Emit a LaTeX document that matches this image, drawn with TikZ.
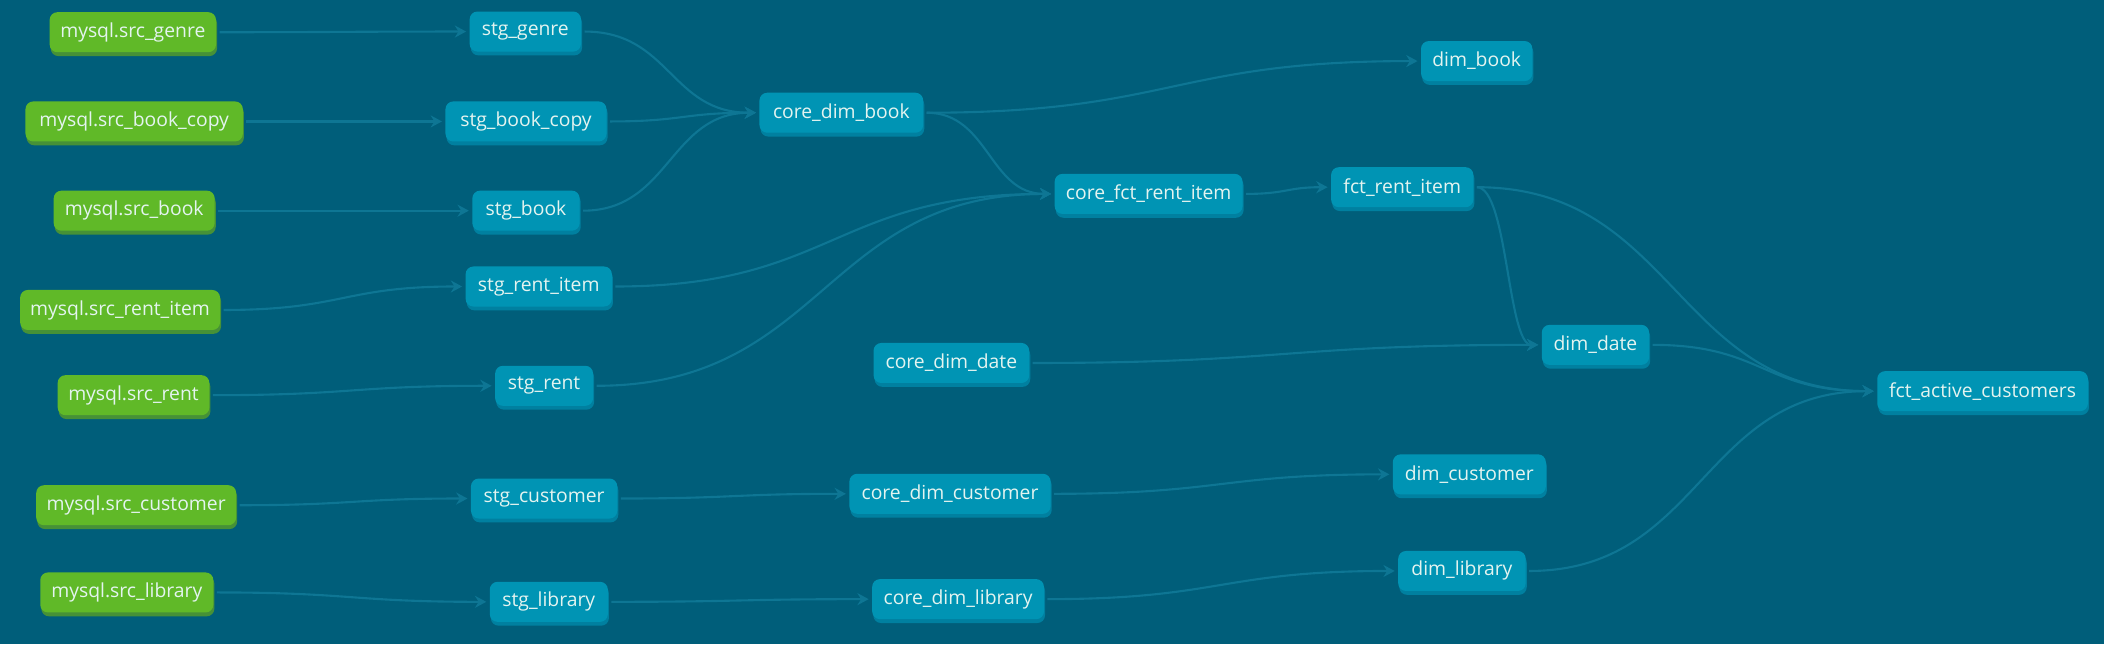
\documentclass[tikz,border=0pt]{standalone}
\usepackage{fontspec}
\setmainfont{Open Sans}
\usetikzlibrary{calc,arrows.meta}
\definecolor{bgc}{RGB}{0,94,122}
\definecolor{grn}{RGB}{96,185,40}
\definecolor{grnsh}{RGB}{70,145,55}
\definecolor{blu}{RGB}{0,148,180}
\definecolor{blush}{RGB}{0,128,160}
\definecolor{lnkc}{RGB}{14,118,148}
\definecolor{txt}{RGB}{228,244,240}
\tikzset{
  basebox/.style={rounded corners=2.2pt, minimum height=0.40cm, inner sep=0pt,
    text=txt, font=\fontsize{5.5}{6}\selectfont, anchor=center},
  gbox/.style={basebox, fill=grn, preaction={fill=grnsh, transform canvas={shift={(0.3pt,-1.1pt)}}}},
  bbox/.style={basebox, fill=blu, preaction={fill=blush, transform canvas={shift={(0.3pt,-1.1pt)}}}},
  wd/.style={minimum width={#1*0.013418cm}},
  lnkline/.style={draw=lnkc, line width=0.6pt, -{Stealth[length=3.2pt,width=3.4pt]},
    shorten >=0.8pt, shorten <=0.8pt}
}
\newcommand\lnk[2]{\draw[lnkline] let \p1=(#1.east), \p2=(#2.west), \n1={(\x2-\x1)/2} in
  (\p1) .. controls +(\n1,0pt) and +(-\n1,0pt) .. (\p2);}
\begin{document}
\begin{tikzpicture}[x=0.013418cm,y=-0.013418cm]
\fill[bgc] (0,0) rectangle (1568,480);
\useasboundingbox (0,0) rectangle (1568,480);
% sources
\node[gbox,wd=124] (sgenre) at (99,24) {mysql.src\_genre};
\node[gbox,wd=162] (sbookcopy) at (100,90.5) {mysql.src\_book\_copy};
\node[gbox,wd=120] (sbook) at (100,157) {mysql.src\_book};
\node[gbox,wd=149] (srentitem) at (89.5,231) {mysql.src\_rent\_item};
\node[gbox,wd=113] (srent) at (99.5,294.5) {mysql.src\_rent};
\node[gbox,wd=149] (scust) at (101.5,376.5) {mysql.src\_customer};
\node[gbox,wd=129] (slib) at (94.5,441.5) {mysql.src\_library};
% staging
\node[bbox,wd=83] (stggenre) at (391.5,23.5) {stg\_genre};
\node[bbox,wd=120] (stgbookcopy) at (392,90.5) {stg\_book\_copy};
\node[bbox,wd=80] (stgbook) at (392,157) {stg\_book};
\node[bbox,wd=109] (stgrentitem) at (401.5,213.5) {stg\_rent\_item};
\node[bbox,wd=73] (stgrent) at (405.5,287.5) {stg\_rent};
\node[bbox,wd=109] (stgcust) at (405.5,371.5) {stg\_customer};
\node[bbox,wd=88] (stglib) at (409,448.5) {stg\_library};
% core
\node[bbox,wd=122] (cdbook) at (627,84) {core\_dim\_book};
\node[bbox,wd=140] (cfri) at (856,144.5) {core\_fct\_rent\_item};
\node[bbox,wd=116] (cddate) at (709,270.5) {core\_dim\_date};
\node[bbox,wd=150] (cdcust) at (708,368) {core\_dim\_customer};
\node[bbox,wd=128] (cdlib) at (714,446.5) {core\_dim\_library};
% marts
\node[bbox,wd=83] (dbook) at (1100.5,45.5) {dim\_book};
\node[bbox,wd=106] (fri) at (1045,139.5) {fct\_rent\_item};
\node[bbox,wd=80] (ddate) at (1189,257) {dim\_date};
\node[bbox,wd=114] (dcust) at (1095,353.5) {dim\_customer};
\node[bbox,wd=95] (dlib) at (1089.5,425.5) {dim\_library};
\node[bbox,wd=157] (fac) at (1477.5,291.5) {fct\_active\_customers};
% links
\lnk{sgenre}{stggenre}
\lnk{sbookcopy}{stgbookcopy}
\lnk{sbook}{stgbook}
\lnk{srentitem}{stgrentitem}
\lnk{srent}{stgrent}
\lnk{scust}{stgcust}
\lnk{slib}{stglib}
\lnk{stggenre}{cdbook}
\lnk{stgbookcopy}{cdbook}
\lnk{stgbook}{cdbook}
\lnk{cdbook}{dbook}
\lnk{cdbook}{cfri}
\lnk{stgrentitem}{cfri}
\lnk{stgrent}{cfri}
\lnk{cfri}{fri}
\lnk{fri}{ddate}
\lnk{cddate}{ddate}
\lnk{fri}{fac}
\lnk{ddate}{fac}
\lnk{dlib}{fac}
\lnk{stgcust}{cdcust}
\lnk{cdcust}{dcust}
\lnk{stglib}{cdlib}
\lnk{cdlib}{dlib}
\end{tikzpicture}
\end{document}
